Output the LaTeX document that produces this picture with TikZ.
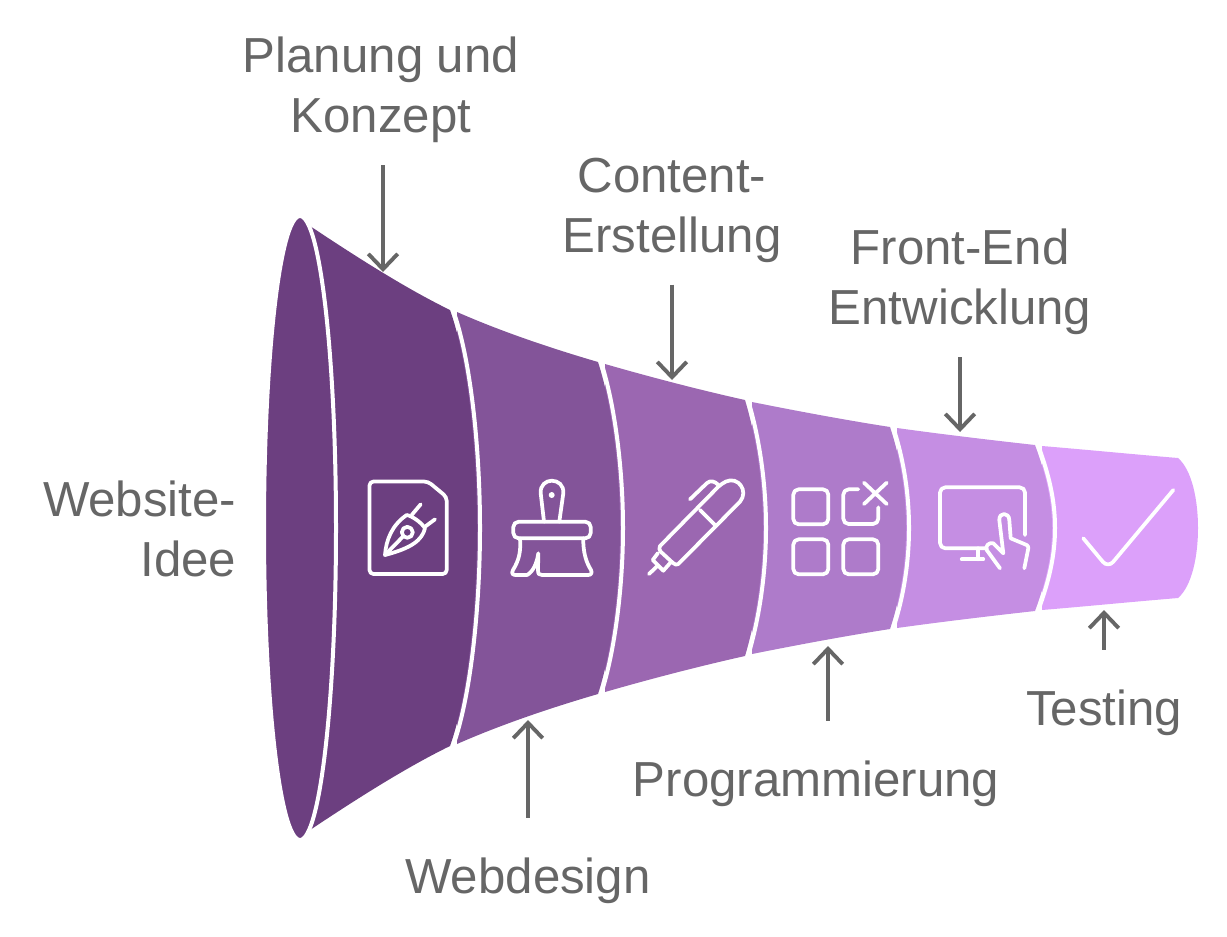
\documentclass[tikz,border=0pt]{standalone}
\usepackage{fontspec}
\setmainfont{Liberation Sans}
\usetikzlibrary{arrows.meta}
\definecolor{textgray}{HTML}{666666}
\definecolor{segone}{HTML}{6C3F80}
\definecolor{segtwo}{HTML}{835499}
\definecolor{segthree}{HTML}{9B67B1}
\definecolor{segfour}{HTML}{AE7BCA}
\definecolor{segfive}{HTML}{C58EE3}
\definecolor{segsix}{HTML}{DCA0FA}
\tikzset{
	label/.style={text=textgray,align=center,inner sep=0pt,font=\fontsize{36.9}{45}\selectfont},
	pointer/.style={draw=textgray,line width=2.9pt,-{Straight Barb[length=11.5pt,width=22pt,line width=2.9pt]}},
	sepline/.style={draw=white,line width=3pt},
	icon/.style={draw=white,line width=2.8pt,line cap=round,line join=round}
}
\begin{document}
\begin{tikzpicture}[x=0.75pt,y=-0.75pt]
	\useasboundingbox (0,0) rectangle (1227,936);

	% funnel, last part first
	\fill[segsix] (1042,446) .. controls (1090,450) and (1130,454) .. (1178,458) .. controls (1192,470) and (1198,500) .. (1198,528) .. controls (1198,556) and (1192,586) .. (1178,598) .. controls (1130,602) and (1090,606) .. (1042,610) -- cycle;
	\fill[segfive] (897,428) .. controls (940,434) and (990,440) .. (1035,445) .. controls (1046,475) and (1052,500) .. (1052,528) .. controls (1052,556) and (1046,581) .. (1035,611) .. controls (990,616) and (940,622) .. (897,628) -- cycle;
	\draw[sepline] (1038,445) .. controls (1049,475) and (1055,500) .. (1055,528) .. controls (1055,556) and (1049,581) .. (1038,611);
	\fill[segfour] (752,402) .. controls (797,411) and (845,420) .. (890,427) .. controls (901,460) and (906,495) .. (906,528) .. controls (906,561) and (901,596) .. (890,629) .. controls (845,636) and (797,645) .. (752,654) -- cycle;
	\draw[sepline] (893,427) .. controls (904,460) and (909,495) .. (909,528) .. controls (909,561) and (904,596) .. (893,629);
	\fill[segthree] (605,364) .. controls (650,377) and (700,390) .. (745,400) .. controls (757,440) and (763,485) .. (763,528) .. controls (763,571) and (757,616) .. (745,656) .. controls (700,666) and (650,679) .. (605,692) -- cycle;
	\draw[sepline] (748,400) .. controls (760,440) and (766,485) .. (766,528) .. controls (766,571) and (760,616) .. (748,656);
	\fill[segtwo] (457,312) .. controls (500,331) and (550,348) .. (598,362) .. controls (612,405) and (620,470) .. (620,528) .. controls (620,586) and (612,651) .. (598,694) .. controls (550,708) and (500,725) .. (457,744) -- cycle;
	\draw[sepline] (601,362) .. controls (615,405) and (623,470) .. (623,528) .. controls (623,586) and (615,651) .. (601,694);
	\fill[segone] (300,220) -- (310,226) .. controls (355,256) and (405,288) .. (450,310) .. controls (468,360) and (477,450) .. (477,528) .. controls (477,606) and (468,696) .. (450,746) .. controls (405,768) and (355,800) .. (310,830) -- (300,836) -- cycle;
	\draw[sepline] (453,310) .. controls (471,360) and (480,450) .. (480,528) .. controls (480,606) and (471,696) .. (453,746);
	\draw[sepline,fill=segone] (300,528) ellipse [x radius=36,y radius=312];

	% icons
	\draw[icon,rounded corners=3pt] (428,481.5) -- (369.5,481.5) -- (369.5,574) -- (446.7,574) -- (446.7,497) -- cycle;
	\draw[icon] (385,555) .. controls (386,540) and (392,525) .. (406.7,515) .. controls (412,516) and (421,522) .. (425,528.3) .. controls (422,540) and (412,548) .. (385,555) -- cycle;
	\draw[icon] (407.3,532.3) circle (5.5);
	\draw[icon] (385,555) -- (403.5,536);
	\draw[icon] (411.7,515) -- (420.7,504.3) (425,526.7) -- (435,519.3);

	\draw[icon] (544,521.7) -- (540.7,493.3) .. controls (540,485) and (546,480.7) .. (551.7,480.7) .. controls (558,480.7) and (564,485) .. (563.3,493.3) -- (559.3,521.7);
	\draw[icon,rounded corners=4pt] (513.3,521.7) rectangle (590.7,538.3);
	\draw[icon] (520,538.3) .. controls (521,552) and (519,560) .. (513,570) .. controls (511,574) and (513,575) .. (516,575) -- (527,575) .. controls (533,572) and (537,563) .. (538.3,553.3) -- (538,570) .. controls (538,574) and (539,575) .. (542,575) -- (588,575) .. controls (591,575) and (592.5,573) .. (591,570) .. controls (586,562) and (583,552) .. (583.3,538.3);
	\fill[white] (551.7,495) circle (3);

	\draw[icon] (718.3,486.7) -- (660,546) .. controls (659,548) and (659,550) .. (660.7,551.7) -- (673,563) .. controls (675,565) and (677,565) .. (678.3,564) -- (740,501.7) .. controls (749,491) and (738,476) .. (726,481.5) .. controls (723,483) and (720,485) .. (718.3,486.7);
	\draw[icon] (658,553) -- (652.7,560) -- (663.3,570.7) -- (671,562);
	\draw[icon] (649,574) -- (657.3,566);
	\draw[icon] (690,499.3) -- (706.7,483.3) .. controls (710,480) and (715,481) .. (718.3,485);
	\draw[icon] (700,510) -- (715,525);

	\foreach \bx/\by in {793.3/489.3,793.3/539.3,843.3/539.3}
		\draw[icon,rounded corners=4pt] (\bx,\by) rectangle ++(35,35);
	\draw[icon,rounded corners=4pt] (858.3,489.3) -- (843.3,489.3) -- (843.3,524) -- (878.3,524) -- (878.3,507.3);
	\draw[icon] (864,482.7) -- (886.7,504) (886.7,482.7) -- (864,504);

	\draw[icon,rounded corners=4pt] (986.7,548.3) -- (940,548.3) -- (940,487.3) -- (1025,487.3) -- (1025,535);
	\draw[icon] (978.3,548.3) -- (978.3,559.3) (961.7,559.3) -- (983.3,559.3);
	\draw[icon] (1000,568.3) -- (986.7,550) .. controls (985,546) and (989,542) .. (993.3,543.3) -- (1003.3,553.3) -- (999.3,520) .. controls (999,512) and (1009,512) .. (1009.3,520) -- (1010.7,538.3) -- (1026.7,545) .. controls (1028,546) and (1028.5,547) .. (1028.3,548.3) -- (1024.3,568.3);

	\draw[icon,rounded corners=6pt] (1083.3,538.3) -- (1108,568) -- (1173.3,490);

	% labels
	\node[label] (planung) at (381,90) {Planung und\\Konzept};
	\node[label] (content) at (672,210) {Content-\\Erstellung};
	\node[label] (frontend) at (960,282) {Front-End\\Entwicklung};
	\node[label,align=right,anchor=east] (website) at (236.5,529) {Website-\\Idee};
	\node[label] (webdesign) at (528,881) {Webdesign};
	\node[label] (programmierung) at (816,784) {Programmierung};
	\node[label] (testing) at (1104,713) {Testing};

	\coordinate (planungtip) at (383,272);
	\coordinate (contenttip) at (672,380);
	\coordinate (frontendtip) at (960,432);
	\coordinate (webdesigntip) at (528,720);
	\coordinate (programmierungtip) at (828,646);
	\coordinate (testingtip) at (1104,610);

	\draw[pointer] (planung.south -| planungtip) ++(0,22) -- (planungtip);
	\draw[pointer] (content.south -| contenttip) ++(0,22) -- (contenttip);
	\draw[pointer] (frontend.south -| frontendtip) ++(0,22) -- (frontendtip);
	\draw[pointer] (webdesign.north -| webdesigntip) ++(0,-40) -- (webdesigntip);
	\draw[pointer] (programmierung.north -| programmierungtip) ++(0,-40) -- (programmierungtip);
	\draw[pointer] (testing.north -| testingtip) ++(0,-40) -- (testingtip);
\end{tikzpicture}
\end{document}
